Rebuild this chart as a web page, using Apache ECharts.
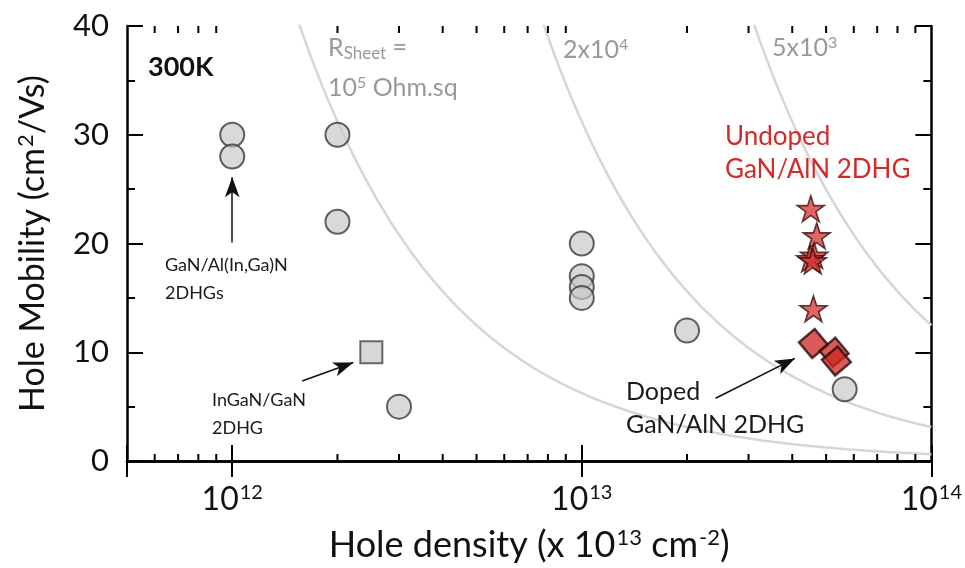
<!DOCTYPE html>
<html>
<head>
<meta charset="utf-8">
<script src="https://cdn.jsdelivr.net/npm/echarts@6/dist/echarts.min.js"></script>
<style>html,body{margin:0;padding:0;background:#fff}#c{width:965px;height:568px}</style>
</head>
<body>
<div id="c"></div>
<script>
// ---- data ----
const circlePoints = [
  [1e12, 30], [1e12, 28],
  [2e12, 30], [2e12, 22],
  [3e12, 5],
  [1e13, 20], [1e13, 17], [1e13, 16], [1e13, 15],
  [2e13, 12],
  [5.65e13, 6.6]
];
const squarePoints = [[2.5e12, 10]];
const starPoints = [
  [4.52e13, 23.2], [4.7e13, 20.7],
  [4.62e13, 18.9], [4.5e13, 18.6], [4.58e13, 18.4],
  [4.6e13, 14.0]
];
const diamondPoints = [[4.6e13, 10.8], [5.27e13, 10.0], [5.35e13, 9.2]];
// iso sheet-resistance lines, R_sheet in Ohm/sq : mu = 1/(q p R)
const sheetResistances = [1e5, 2e4, 5e3];
const minorXTicks = [6e11, 7e11, 8e11, 9e11,
  2e12, 3e12, 4e12, 5e12, 6e12, 7e12, 8e12, 9e12,
  2e13, 3e13, 4e13, 5e13, 6e13, 7e13, 8e13, 9e13];
const yTicks = [0, 10, 20, 30, 40];
// arrows [from, to] in data coordinates
const arrows = [
  [[1e12, 20.1], [1e12, 26.1]],
  [[1.585e12, 7.35], [2.22e12, 9.06]],
  [[2.415e13, 5.77], [4.07e13, 9.43]]
];

const Q = 1.602e-19;
const densitySamples = [];
for (let i = 0; i <= 240; i++) densitySamples.push(Math.pow(10, 11.69 + i * (14 - 11.69) / 240));

const FONT = 'Lato';
const chart = echarts.init(document.getElementById('c'), null, {renderer: 'canvas'});

const tickRich = {
  sup: {fontSize: 20, fontFamily: FONT, color: '#111', verticalAlign: 'top', padding: [0, 0, 13, 1]}
};
const titleRich = {
  sup: {fontSize: 22, fontFamily: FONT, color: '#111', verticalAlign: 'top', padding: [0, 0, 14, 1]}
};

function decadeLabel(v) {
  const l = Math.log10(v);
  const e = Math.round(l);
  if (Math.abs(l - e) > 1e-6) return '';
  return '10{sup|' + e + '}';
}

const axisLineStyle = {color: '#000', width: 2.5};

const curveSeries = sheetResistances.map(R => ({
  type: 'line',
  data: densitySamples.map(p => [p, 1 / (Q * p * R)]),
  showSymbol: false,
  symbol: 'none',
  lineStyle: {color: '#d6d6d6', width: 2.5},
  silent: true,
  clip: true,
  z: 1
}));

const markerBorder = '#3a3a3a';

const option = {
  animation: false,
  backgroundColor: '#fff',
  grid: {left: 127, right: 33, top: 26, bottom: 105},
  xAxis: [{
    type: 'log', logBase: 10, min: 5e11, max: 1e14, position: 'bottom',
    axisLine: {lineStyle: axisLineStyle},
    axisTick: {inside: true, length: 16, lineStyle: {color: '#000', width: 2}},
    splitLine: {show: false},
    axisLabel: {formatter: decadeLabel, fontSize: 32, fontFamily: FONT, color: '#111', margin: 22, rich: tickRich},
    name: 'Hole density (x 10{sup|13} cm{sup|-2})',
    nameLocation: 'middle', nameGap: 66,
    nameTextStyle: {fontSize: 36, fontFamily: FONT, color: '#111', rich: titleRich}
  }, {
    type: 'log', logBase: 10, min: 5e11, max: 1e14, position: 'top',
    axisLine: {lineStyle: axisLineStyle},
    axisTick: {inside: true, length: 16, lineStyle: {color: '#000', width: 2}},
    splitLine: {show: false},
    axisLabel: {show: false}
  }],
  yAxis: [{
    type: 'value', min: 0, max: 40, interval: 10, position: 'left',
    axisLine: {show: true, lineStyle: axisLineStyle},
    axisTick: {show: true, inside: true, length: 16, lineStyle: {color: '#000', width: 2}},
    minorTick: {show: true, splitNumber: 2, length: 8, lineStyle: {color: '#000', width: 2}},
    splitLine: {show: false},
    axisLabel: {fontSize: 31, fontFamily: FONT, color: '#111', margin: 18,
      formatter: v => yTicks.indexOf(v) >= 0 ? String(v) : ''},
    name: 'Hole Mobility (cm{sup|2}/Vs)',
    nameLocation: 'middle', nameGap: 76, nameRotate: 90,
    nameTextStyle: {fontSize: 34, fontFamily: FONT, color: '#111', rich: titleRich}
  }, {
    type: 'value', min: 0, max: 40, interval: 10, position: 'right',
    axisLine: {show: true, lineStyle: axisLineStyle},
    axisTick: {show: true, inside: true, length: 16, lineStyle: {color: '#000', width: 2}},
    minorTick: {show: true, splitNumber: 2, length: 8, lineStyle: {color: '#000', width: 2}},
    splitLine: {show: false},
    axisLabel: {show: false}
  }],
  series: [
    ...curveSeries,
    {
      type: 'custom', silent: true, clip: false, z: 5,
      data: minorXTicks.map(v => [v, 0]),
      encode: {x: 0, y: 1},
      renderItem: function (params, api) {
        const b = api.coord([api.value(0), 0]);
        const t = api.coord([api.value(0), 40]);
        const st = {stroke: '#000', lineWidth: 2};
        return {type: 'group', children: [
          {type: 'line', shape: {x1: b[0], y1: b[1], x2: b[0], y2: b[1] - 7}, style: st},
          {type: 'line', shape: {x1: t[0], y1: t[1], x2: t[0], y2: t[1] + 7}, style: st}
        ]};
      }
    },
    {
      type: 'scatter', data: circlePoints, symbol: 'circle', symbolSize: 24, z: 3,
      itemStyle: {color: 'rgba(200,200,200,0.85)', borderColor: markerBorder, borderWidth: 2}
    },
    {
      type: 'scatter', data: squarePoints, symbol: 'rect', symbolSize: 22, z: 3,
      itemStyle: {color: '#cdcdcd', borderColor: '#444', borderWidth: 2}
    },
    {
      type: 'scatter', data: starPoints, z: 4,
      symbol: 'path://M50,0 L61.2,34.5 L97.6,34.5 L68.2,55.9 L79.4,90.5 L50,69.1 L20.6,90.5 L31.8,55.9 L2.4,34.5 L38.8,34.5 Z',
      symbolSize: 27, symbolKeepAspect: true,
      itemStyle: {color: 'rgba(217,52,52,0.95)', borderColor: '#3a1010', borderWidth: 1.6}
    },
    {
      type: 'scatter', data: diamondPoints, symbol: 'diamond', symbolSize: 29, symbolRotate: -5, z: 4,
      itemStyle: {color: 'rgba(210,38,38,0.95)', borderColor: '#2a0d0d', borderWidth: 2.5}
    },
    {
      type: 'line', data: [], z: 6, silent: true,
      markLine: {
        silent: true, animation: false,
        symbol: ['none', 'arrow'], symbolSize: [11, 20],
        label: {show: false},
        lineStyle: {color: '#111', width: 1.5, type: 'solid'},
        data: arrows.map(a => [{coord: a[0]}, {coord: a[1]}])
      }
    }
  ],
  graphic: []
};
chart.setOption(option);

const gray = '#999999', red = '#d42a2a', dark = '#1a1a1a';
const grayRich = {
  sub: {fontSize: 17, fontFamily: FONT, fill: gray, color: gray, verticalAlign: 'bottom', padding: [12, 0, 0, 0]},
  sup: {fontSize: 16, fontFamily: FONT, fill: gray, color: gray, verticalAlign: 'top', padding: [0, 0, 11, 0]}
};
function txt(x, y, text, size, color, weight, rich) {
  return {type: 'text', x: x, y: y, z: 100, silent: true,
    style: {text: text, fontSize: size, fontFamily: FONT, fill: color, fontWeight: weight || 'normal',
      verticalAlign: 'middle', align: 'left', rich: rich || {}}};
}
chart.setOption({graphic: [
  txt(148, 67, '300K', 27, '#111', 'bold'),
  txt(328, 48, 'R{sub|Sheet} =', 25, gray, 'normal', grayRich),
  txt(328, 88, '10{sup|5} Ohm.sq', 25, gray, 'normal', grayRich),
  txt(563, 50, '2x10{sup|4}', 25, gray, 'normal', grayRich),
  txt(772, 48, '5x10{sup|3}', 25, gray, 'normal', grayRich),
  txt(725, 137, 'Undoped', 26, red),
  txt(725, 170, 'GaN/AlN 2DHG', 26, red),
  txt(165, 265, 'GaN/Al(In,Ga)N', 18, dark),
  txt(165, 293, '2DHGs', 18, dark),
  txt(212, 400, 'InGaN/GaN', 18, dark),
  txt(212, 428, '2DHG', 18, dark),
  txt(626, 392, 'Doped', 25, dark),
  txt(626, 425, 'GaN/AlN 2DHG', 25, dark)
]});
</script>
</body>
</html>
